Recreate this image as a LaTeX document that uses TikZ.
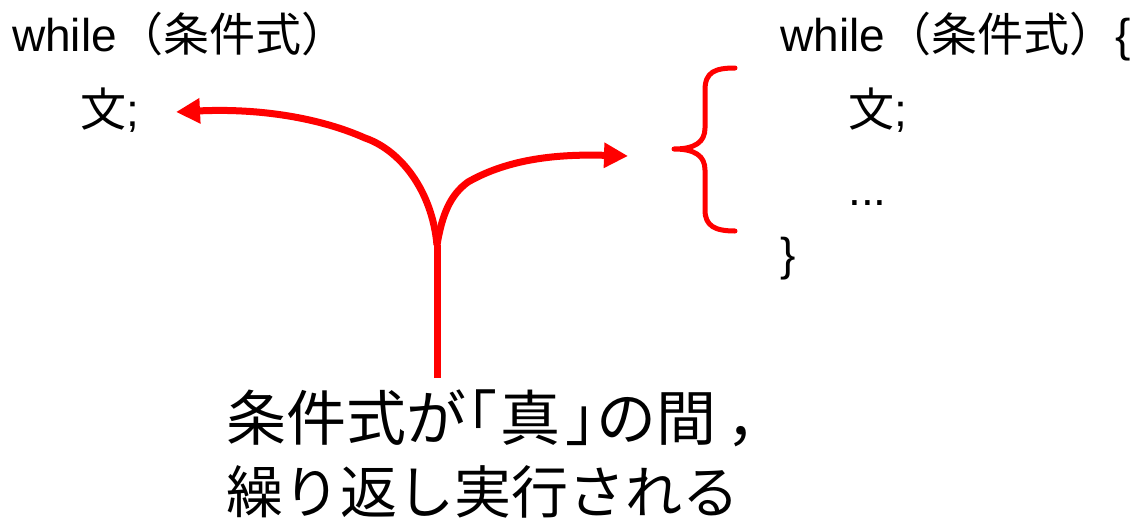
\documentclass[tikz,border=0pt]{standalone}
\usepackage{fontspec}
\setmainfont{Liberation Sans}
\newfontfamily\cjk{Noto Sans CJK JP}
\newfontfamily\cjkp[RawFeature=+palt]{Noto Sans CJK JP}
\usetikzlibrary{arrows.meta}
\begin{document}
\begin{tikzpicture}[x=1pt,y=-1pt,
  code/.style={anchor=base west,inner sep=0pt,font=\fontsize{46}{50}\selectfont},
  bigA/.style={anchor=base west,inner sep=0pt,font=\fontsize{60}{64}\selectfont\cjk},
  bigB/.style={anchor=base west,inner sep=0pt,font=\fontsize{57}{62}\selectfont\cjk},
  redline/.style={draw=red,line width=7pt},
  redarrow/.style={redline,-{Triangle[length=24pt,width=24pt]}},
  bracestyle/.style={draw=red,line width=5pt,line cap=round,line join=round}]
\useasboundingbox (0,0) rectangle (1134,525);
% left code
\node[code] (lwhile) at (12,51) {while{\cjk（条件式）}};
\node[code] (lstmt) at (80,126) {{\cjk 文};};
% right code
\node[code] (rwhile) at (780,51) {while{\cjk（条件式）}\{};
\node[code] (rstmt) at (848,126) {{\cjk 文};};
\node[code] (rdots) at (848,205) {...};
\node[code] (rclose) at (780,270) {\}};
% bottom text
\node[bigA] (l1) at (226,440) {条件式が{\cjkp「}\kern4pt 真\kern6pt{\cjkp」}の間\kern10pt ，};
\node[bigB] (l2) at (226,513) {繰り返し実行される};
% arrows
\coordinate (base) at (437,378);
\coordinate (fork) at (437,245);
\coordinate (ltip) at (176,112);
\coordinate (rtip) at (628,156);
\draw[redline] (base) -- (fork);
\draw[redarrow] (fork) .. controls (432,190) and (400,150) .. (365,138)
  .. controls (320,118) and (260,108) .. (ltip);
\draw[redarrow] (fork) .. controls (442,215) and (450,195) .. (468,182)
  .. controls (510,158) and (560,154) .. (rtip);
% brace
\coordinate (btop) at (735,68);
\coordinate (bmid) at (674,149);
\coordinate (bbot) at (735,231);
\draw[bracestyle] (btop) .. controls (715,68) and (705,72) .. (705,90)
  -- (705,128) .. controls (705,142) and (695,149) .. (bmid)
  .. controls (695,149) and (705,156) .. (705,170)
  -- (705,210) .. controls (705,226) and (715,231) .. (bbot);
\end{tikzpicture}
\end{document}
